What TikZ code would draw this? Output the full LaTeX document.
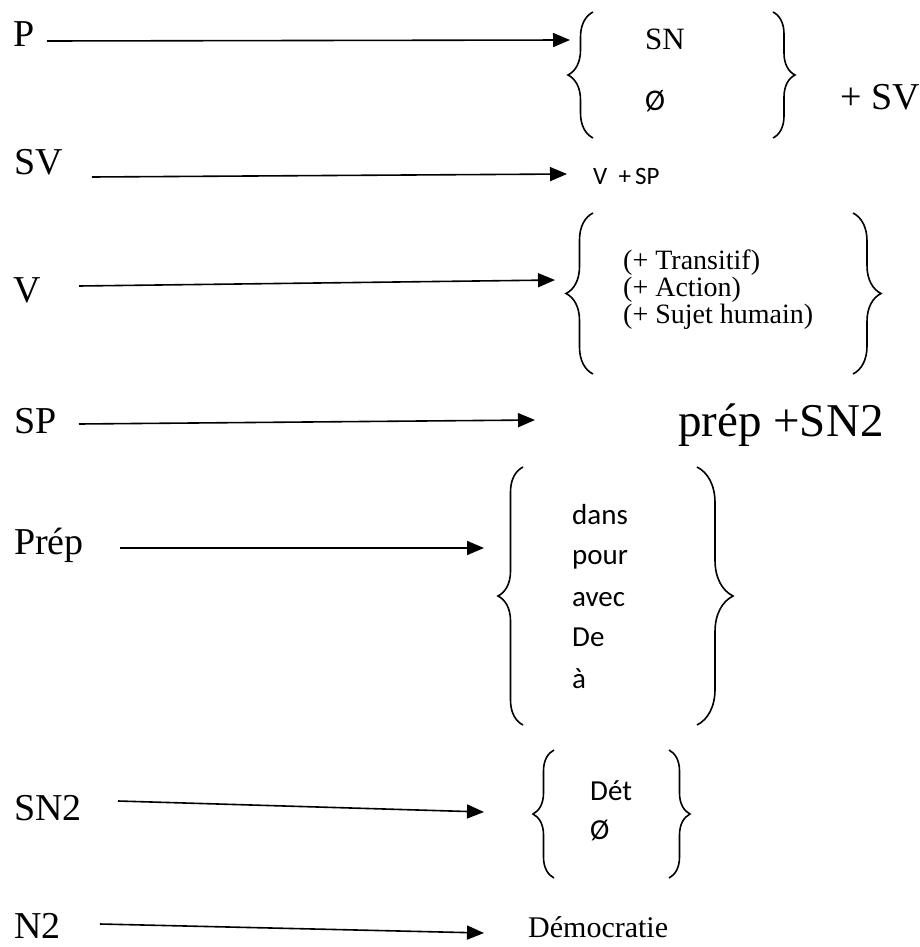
\documentclass[tikz,border=0pt]{standalone}
\usepackage{fontspec}
\setmainfont{Liberation Serif}
\newfontfamily\calib{Carlito}
\usetikzlibrary{arrows.meta,decorations.pathreplacing}
\begin{document}
\begin{tikzpicture}[x=1pt,y=-1pt,
  lab/.style={anchor=west,inner sep=0pt,font=\fontsize{38}{44}\selectfont},
  ser/.style={anchor=west,inner sep=0pt,font=\fontsize{#1}{#1}\selectfont,execute at begin node=\strut},
  sans/.style={anchor=west,inner sep=0pt,font=\calib\fontsize{#1}{#1}\selectfont,execute at begin node=\strut},
  rule/.style={line width=1.6pt,-{Triangle[length=17pt,width=14pt]}},
  curly/.style={decorate,decoration={brace,amplitude=#1},line width=1.6pt}]
\useasboundingbox (0,0) rectangle (920,947);

\node[lab] (p) at (13,34) {P};
\node[lab] (sv) at (14,162) {SV};
\node[lab] (v) at (13,290) {V};
\node[lab] (sp) at (14,421) {SP};
\node[lab] (prep) at (14,545) {Prép};
\node[lab] (sn2) at (14,808) {SN2};
\node[lab] (n2) at (14,926) {N2};

\coordinate (pFrom) at (47,41);   \coordinate (pTo) at (570,40);
\coordinate (svFrom) at (92,177); \coordinate (svTo) at (567,174);
\coordinate (vFrom) at (79,286);  \coordinate (vTo) at (555,280);
\coordinate (spFrom) at (79,424); \coordinate (spTo) at (535,420);
\coordinate (prFrom) at (120,548); \coordinate (prTo) at (484,548);
\coordinate (snFrom) at (118,801); \coordinate (snTo) at (484,812);
\coordinate (nFrom) at (100,924); \coordinate (nTo) at (484,933);

\draw[rule] (pFrom) -- (pTo);
\draw[rule] (svFrom) -- (svTo);
\draw[rule] (vFrom) -- (vTo);
\draw[rule] (spFrom) -- (spTo);
\draw[rule] (prFrom) -- (prTo);
\draw[rule] (snFrom) -- (snTo);
\draw[rule] (nFrom) -- (nTo);

\draw[curly=25] (593,138) -- (593,12);
\draw[curly=22] (773,12) -- (773,138);
\node[ser=31] (sn) at (645,43) {SN};
\node[sans=30] (vide) at (645,105) {Ø};
\node[ser=38] (plussv) at (840,102) {+ SV};

\node[sans=25] (vsp) at (593,179) {V\hspace{0.45em}+\,SP};

\draw[curly=27] (593,374) -- (593,213);
\draw[curly=28] (853,213) -- (853,374);
\node[ser=28] (trans) at (623,264) {(+ Transitif)};
\node[ser=28] (action) at (623,291) {(+ Action)};
\node[ser=28] (sujet) at (623,318) {(+ Sujet humain)};

\node[ser=47] (prepsn) at (678,427) {prép +SN2};

\draw[curly=25] (523,725) -- (523,467);
\draw[curly=36] (697,467) -- (697,725);
\node[sans=29] (dans) at (572,519) {dans};
\node[sans=29] (pour) at (572,559) {pour};
\node[sans=29] (avec) at (572,601) {avec};
\node[sans=29] (de) at (572,641) {De};
\node[sans=29] (a) at (572,683) {à};

\draw[curly=21] (554,878) -- (554,750);
\draw[curly=21] (669,750) -- (669,878);
\node[sans=29] (det) at (590,795) {Dét};
\node[sans=29] (vide2) at (590,834) {Ø};

\node[ser=30] (demo) at (528,931) {Démocratie};
\end{tikzpicture}
\end{document}
